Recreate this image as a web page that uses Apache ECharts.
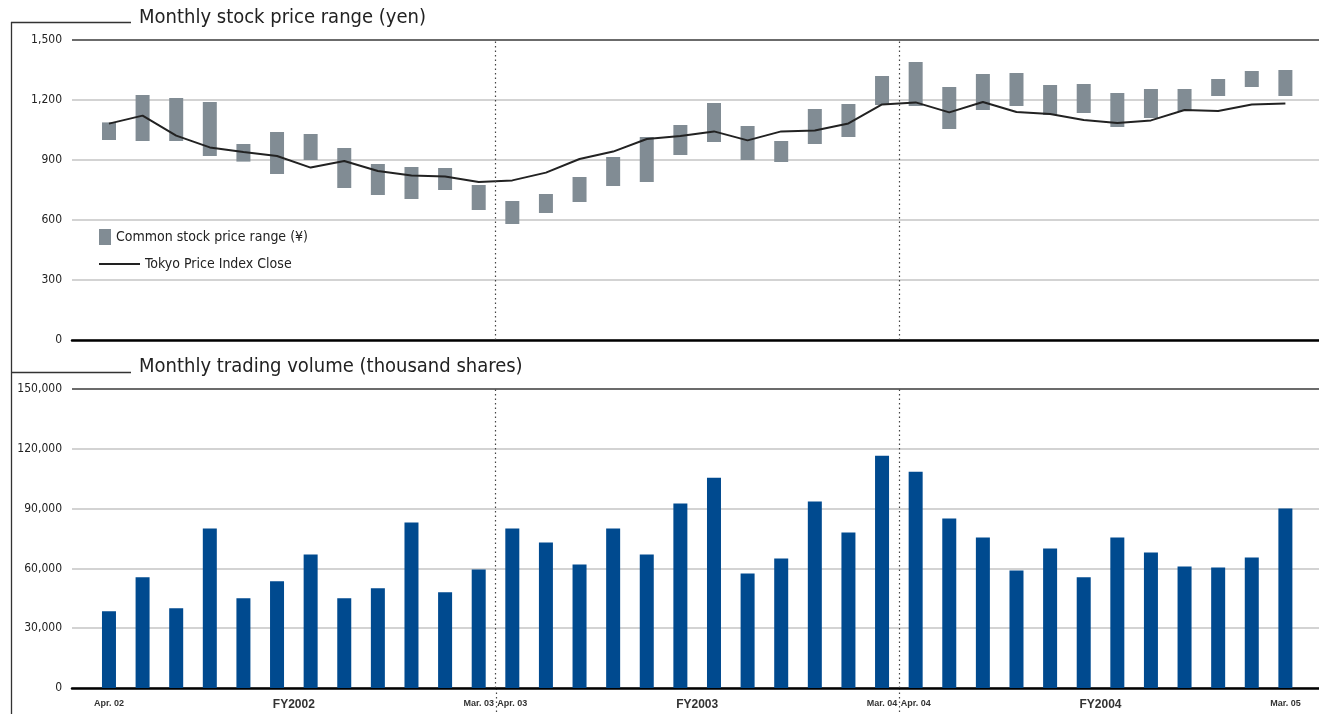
<!DOCTYPE html>
<html>
<head>
<meta charset="utf-8">
<script src="https://cdn.jsdelivr.net/npm/echarts@6/dist/echarts.min.js"></script>
<style>
html, body { margin: 0; padding: 0; background: #fff; overflow: hidden; }
#chart { width: 1319px; height: 714px; }
</style>
</head>
<body>
<div id="chart"></div>
<script>
// months Apr. 02 .. Mar. 05, x value = index
const months = [
    'Apr. 02','May 02','Jun. 02','Jul. 02','Aug. 02','Sep. 02','Oct. 02','Nov. 02','Dec. 02','Jan. 03','Feb. 03','Mar. 03',
    'Apr. 03','May 03','Jun. 03','Jul. 03','Aug. 03','Sep. 03','Oct. 03','Nov. 03','Dec. 03','Jan. 04','Feb. 04','Mar. 04',
    'Apr. 04','May 04','Jun. 04','Jul. 04','Aug. 04','Sep. 04','Oct. 04','Nov. 04','Dec. 04','Jan. 05','Feb. 05','Mar. 05'
];
const priceHigh = [1088,1225,1210,1190,980,1040,1030,960,880,865,860,775,
                   695,730,815,915,1015,1075,1185,1070,995,1155,1180,1320,
                   1390,1265,1330,1335,1275,1280,1235,1255,1255,1305,1345,1350];
const priceLow  = [1000,995,995,920,892,830,900,760,725,705,750,650,
                   580,635,690,770,790,925,990,900,890,980,1015,1175,
                   1170,1055,1150,1170,1125,1135,1065,1110,1145,1220,1265,1220];
const topixClose = [1082,1122,1022,963,940,920,862,895,845,822,818,790,
                    798,837,905,942,1005,1020,1043,998,1043,1048,1083,1178,
                    1188,1138,1190,1140,1130,1100,1085,1098,1150,1145,1178,1183];
const volume = [38500,55500,40000,80000,45000,53500,67000,45000,50000,83000,48000,59500,
                80000,73000,62000,80000,67000,92500,105500,57500,65000,93500,78000,116500,
                108500,85000,75500,59000,70000,55500,75500,68000,61000,60500,65500,90000];
// labels under the volume chart: [x position, text]
const xTickLabels = [
    [0,'Apr. 02'],[5.5,'FY2002'],[11,'Mar. 03'],
    [12,'Apr. 03'],[17.5,'FY2003'],[23,'Mar. 04'],
    [24,'Apr. 04'],[29.5,'FY2004'],[35,'Mar. 05']
];
const fyDividers = [11.5, 23.5];
const priceTicks = { min: 0, max: 1500, step: 300 };
const volumeTicks = { min: 0, max: 150000, step: 30000 };

const FONT_COND = "'DejaVu Sans Condensed', sans-serif";
const FONT_LABEL = "'Liberation Sans', Arial, sans-serif";
const GRAY_BAR = '#818c94';
const BLUE_BAR = '#004a8f';
const GRID_COLORS = ['#c4c4c4','#c4c4c4','#c4c4c4','#c4c4c4','#c4c4c4','#3a3a3a'];

let chart = echarts.init(document.getElementById('chart'));

let xAxisBase = (gridIndex, showLabels) => ({
    type: 'value',
    gridIndex: gridIndex,
    min: -1.1,
    max: 36,
    interval: 0.1,
    axisLine: { show: true, onZero: false, lineStyle: { color: '#000', width: 2.5 } },
    axisTick: { show: false },
    splitLine: { show: false },
    axisLabel: {
        show: showLabels,
        margin: 11,
        showMinLabel: true,
        showMaxLabel: true,
        formatter: (v) => {
            let key = Math.round(v * 10) / 10;
            let hit = xTickLabels.find(t => t[0] === key);
            if (!hit) return '';
            return hit[1].indexOf('FY') === 0 ? '{fy|' + hit[1] + '}' : '{m|' + hit[1] + '}';
        },
        rich: {
            m: { fontFamily: FONT_LABEL, fontSize: 9, fontWeight: 'bold', color: '#333' },
            fy: { fontFamily: FONT_LABEL, fontSize: 12, fontWeight: 'bold', color: '#333' }
        }
    }
});

let yAxisBase = (gridIndex, ticks) => ({
    type: 'value',
    gridIndex: gridIndex,
    min: ticks.min,
    max: ticks.max,
    interval: ticks.step,
    axisLine: { show: false },
    axisTick: { show: false },
    axisLabel: {
        margin: 10,
        fontFamily: FONT_COND,
        fontSize: 12,
        color: '#222',
        formatter: (v) => v.toLocaleString('en-US')
    },
    splitLine: { show: true, lineStyle: { color: GRID_COLORS, width: 1.5 } }
});

let dividerLine = {
    silent: true,
    symbol: 'none',
    label: { show: false },
    lineStyle: { color: '#444', type: [1.5, 3], width: 1.2 },
    data: fyDividers.map(x => ({ xAxis: x }))
};

chart.setOption({
    animation: false,
    grid: [
        { left: 72, right: 0, top: 40, height: 300, outerBoundsMode: 'none' },
        { left: 72, right: 0, top: 389, height: 299, outerBoundsMode: 'none' }
    ],
    legend: [{
        data: ['Common stock price range (¥)'],
        left: 94, top: 224,
        icon: 'rect', itemWidth: 12, itemHeight: 16, itemGap: 0,
        textStyle: { fontFamily: FONT_COND, fontSize: 14, color: '#222' }
    }, {
        data: ['Tokyo Price Index Close'],
        left: 94, top: 252,
        icon: 'rect', itemWidth: 41, itemHeight: 2,
        textStyle: { fontFamily: FONT_COND, fontSize: 14, color: '#222' }
    }],
    xAxis: [xAxisBase(0, false), xAxisBase(1, true)],
    yAxis: [yAxisBase(0, priceTicks), yAxisBase(1, volumeTicks)],
    series: [
        {
            name: 'Common stock price range (¥)',
            type: 'custom',
            xAxisIndex: 0, yAxisIndex: 0,
            itemStyle: { color: GRAY_BAR },
            encode: { x: 0, y: [1, 2] },
            data: months.map((m, i) => [i, priceLow[i], priceHigh[i]]),
            renderItem: (params, api) => {
                let lo = api.coord([api.value(0), api.value(1)]);
                let hi = api.coord([api.value(0), api.value(2)]);
                return {
                    type: 'rect',
                    shape: { x: lo[0] - 7, y: hi[1], width: 14, height: lo[1] - hi[1] },
                    style: { fill: GRAY_BAR }
                };
            },
            z: 2
        },
        {
            name: 'Tokyo Price Index Close',
            type: 'line',
            xAxisIndex: 0, yAxisIndex: 0,
            symbol: 'none',
            lineStyle: { color: '#222', width: 2 },
            itemStyle: { color: '#222' },
            data: months.map((m, i) => [i, topixClose[i]]),
            markLine: dividerLine,
            z: 3
        },
        {
            name: 'Monthly trading volume',
            type: 'bar',
            xAxisIndex: 1, yAxisIndex: 1,
            barWidth: 14,
            itemStyle: { color: BLUE_BAR },
            data: months.map((m, i) => [i, volume[i]]),
            markLine: dividerLine
        }
    ]
});

// frame lines, section titles and the divider tails through the month labels
let bottomY = chart.convertToPixel({ yAxisIndex: 1 }, 0);
let graphics = [
    { type: 'line', shape: { x1: 11.5, y1: 22, x2: 11.5, y2: 714 }, style: { stroke: '#333', lineWidth: 1.3 } },
    { type: 'line', shape: { x1: 11, y1: 22.5, x2: 131, y2: 22.5 }, style: { stroke: '#333', lineWidth: 1.3 } },
    { type: 'line', shape: { x1: 11, y1: 372.5, x2: 131, y2: 372.5 }, style: { stroke: '#333', lineWidth: 1.3 } },
    { type: 'text', left: 139, top: 8, style: { text: 'Monthly stock price range (yen)', font: '20px ' + FONT_COND, fill: '#222' } },
    { type: 'text', left: 139, top: 357, style: { text: 'Monthly trading volume (thousand shares)', font: '20px ' + FONT_COND, fill: '#222' } }
];
fyDividers.forEach(x => {
    let px = Math.round(chart.convertToPixel({ xAxisIndex: 1 }, x)) + 0.5;
    graphics.push({
        type: 'line',
        shape: { x1: px, y1: bottomY, x2: px, y2: 714 },
        style: { stroke: '#444', lineWidth: 1.2, lineDash: [1.5, 3] }
    });
});
chart.setOption({ graphic: graphics });

window.onresize = () => {
    chart.resize();
};
</script>
</body>
</html>
